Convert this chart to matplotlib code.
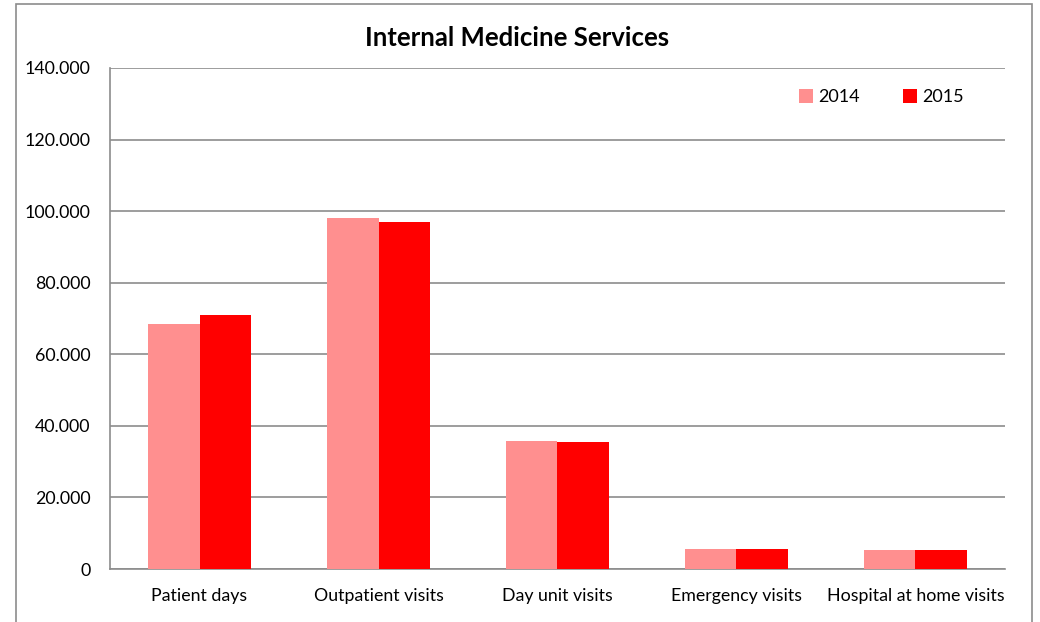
import numpy as np
import matplotlib
matplotlib.use('Agg')
import matplotlib.pyplot as plt
from matplotlib.patches import Rectangle
from matplotlib.ticker import FuncFormatter

categories = ['Patient days', 'Outpatient visits', 'Day unit visits',
              'Emergency visits', 'Hospital at home visits']
values_2014 = [68600, 98200, 35800, 5600, 5200]
values_2015 = [71100, 96900, 35500, 5600, 5200]

plt.rcParams['font.family'] = ['Lato', 'DejaVu Sans']

fig = plt.figure(figsize=(10.4, 6.22), dpi=100)
ax = fig.add_axes([0.1058, 0.0852, 0.8605, 0.8055])

# outer chart border
fig.patches.append(Rectangle((16 / 1040, -0.05), 1016 / 1040, 1.05 - 4 / 622,
                             transform=fig.transFigure, fill=False,
                             edgecolor='#8c8c8c', linewidth=1.2))

x = np.arange(len(categories))
w = 0.288
ax.bar(x - w / 2, values_2014, w, color='#ff8f8f', label='2014', zorder=3)
ax.bar(x + w / 2, values_2015, w, color='#ff0000', label='2015', zorder=3)

ax.set_xlim(-0.5, len(categories) - 0.5)
ax.set_ylim(0, 140000)
ax.set_yticks(np.arange(0, 140001, 20000))
ax.yaxis.set_major_formatter(FuncFormatter(lambda v, p: '0' if v == 0 else f'{v/1000:.0f}.000'))
ax.set_xticks(x)
ax.set_xticklabels(categories)
ax.tick_params(axis='both', labelsize=12.8, colors='#000000', length=0)
ax.tick_params(axis='x', pad=14)
ax.tick_params(axis='y', pad=14)

ax.grid(axis='y', color='#8c8c8c', linewidth=1.2, zorder=0)
for s in ['top', 'right']:
    ax.spines[s].set_visible(False)
for s in ['left', 'bottom']:
    ax.spines[s].set_color('#8c8c8c')
    ax.spines[s].set_linewidth(1.2)

fig.text(517 / 1040, 1 - 38 / 622, 'Internal Medicine Services', fontsize=18.5,
         fontweight='bold', ha='center', va='center')

ax.legend(loc='upper right', bbox_to_anchor=(0.972, 0.99), ncol=2, frameon=False,
          fontsize=13, handlelength=0.75, handleheight=0.75, handletextpad=0.3,
          columnspacing=2.4)

fig.savefig('out.png', dpi=100)
